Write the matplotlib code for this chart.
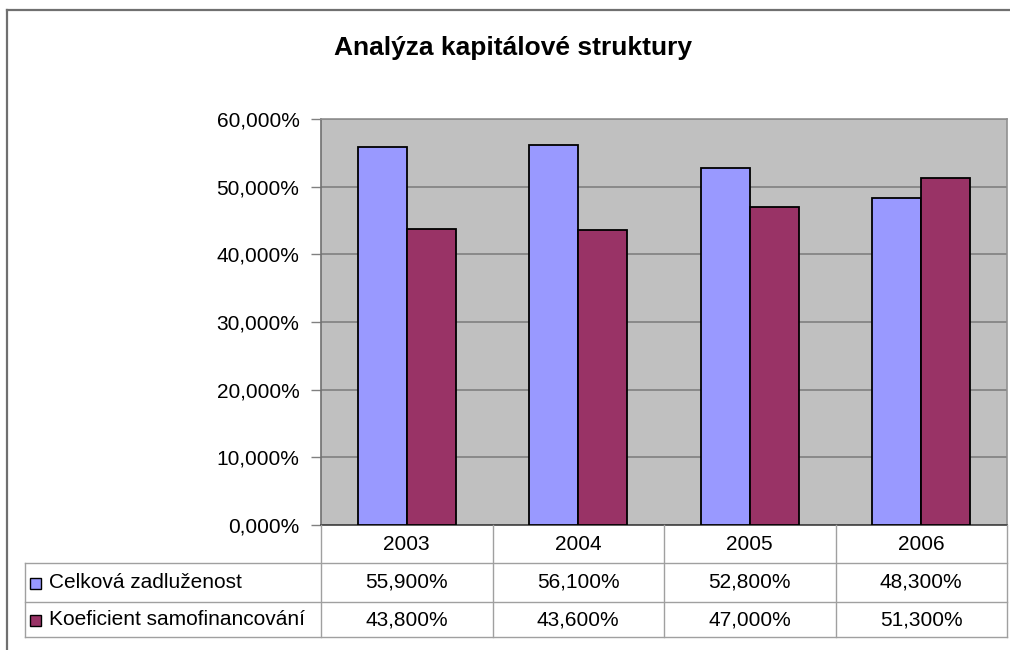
import matplotlib
matplotlib.use("Agg")
import matplotlib.pyplot as plt
from matplotlib.patches import Rectangle
from matplotlib.lines import Line2D
import numpy as np

plt.rcParams['font.family'] = ['Liberation Sans', 'DejaVu Sans']

title = "Analýza kapitálové struktury"
years = ["2003", "2004", "2005", "2006"]
series_names = ["Celková zadluženost", "Koeficient samofinancování"]
celkova = [55.9, 56.1, 52.8, 48.3]
koeficient = [43.8, 43.6, 47.0, 51.3]
yticks = [0, 10, 20, 30, 40, 50, 60]
colors = ["#9999FF", "#993366"]

W, H = 1010, 650
fig = plt.figure(figsize=(W / 100, H / 100), dpi=100)

def fx(px):
    return px / W

def fy(py):
    return 1 - py / H

def fmt(v):
    return f"{v:.3f}".replace(".", ",") + "%"

# outer chart border
fig.add_artist(Line2D([fx(7), fx(1010)], [fy(10), fy(10)], color="#707070", lw=1.6))
fig.add_artist(Line2D([fx(7), fx(7)], [fy(10), fy(650)], color="#707070", lw=1.6))

# title
fig.text(fx(513), fy(48), title, ha="center", va="center", fontsize=19, fontweight="bold")

# main plot
L, R, T, B = 321, 1007, 119, 525
ax = fig.add_axes([fx(L), fy(B), fx(R) - fx(L), fy(T) - fy(B)])
ax.set_facecolor("#C0C0C0")
x = np.arange(len(years))
bw = 1 / 3.5
series = [celkova, koeficient]
for k, (vals, c) in enumerate(zip(series, colors)):
    ax.bar(x + (k - 0.5) * bw, vals, width=bw, color=c, edgecolor="black", linewidth=1.3, zorder=3)
ax.set_xlim(-0.5, len(years) - 0.5)
ax.set_ylim(0, 60)
ax.set_yticks(yticks)
ax.set_yticklabels([fmt(v) for v in yticks], fontsize=15)
ax.yaxis.grid(True, color="#808080", linewidth=1.2, zorder=0)
ax.set_axisbelow(True)
ax.set_xticks([])
ax.tick_params(axis="y", length=7, width=1, color="#808080", pad=8.5)
for s in ["top", "right"]:
    ax.spines[s].set_color("#909090")
    ax.spines[s].set_linewidth(1.2)
ax.spines["left"].set_color("#707070")
ax.spines["left"].set_linewidth(1.2)
ax.spines["bottom"].set_color("#404040")
ax.spines["bottom"].set_linewidth(1.2)

# data table below, in category coordinates
TL, TB = 25, 637
unit = (R - L) / len(years)
tax = fig.add_axes([fx(TL), fy(TB), fx(R) - fx(TL), fy(B) - fy(TB)])
tax.set_xlim(-0.5 - (L - TL) / unit, len(years) - 0.5)
tax.set_ylim(TB - B, 0)
tax.axis("off")
gc = "#A0A0A0"
row_y = [0, 38, 77, TB - B]
left_lim = -0.5 - (L - TL) / unit
# horizontal lines
for yy in row_y[1:]:
    tax.plot([left_lim, len(years) - 0.5], [yy, yy], color=gc, lw=1.0, clip_on=False)
# vertical lines
for i in range(len(years) + 1):
    tax.plot([i - 0.5, i - 0.5], [0, row_y[-1]], color=gc, lw=1.0, clip_on=False)
tax.plot([left_lim, left_lim], [row_y[1], row_y[-1]], color=gc, lw=1.0, clip_on=False)

for i, yr in enumerate(years):
    tax.text(i, (row_y[0] + row_y[1]) / 2, yr, ha="center", va="center", fontsize=15)
for r, (name, vals, c) in enumerate(zip(series_names, series, colors)):
    yc = (row_y[r + 1] + row_y[r + 2]) / 2
    for i, v in enumerate(vals):
        tax.text(i, yc, fmt(v), ha="center", va="center", fontsize=15)
    sw = 11 / unit
    tax.add_patch(Rectangle((left_lim + 5 / unit, yc - 5.5 + 1), sw, 11, facecolor=c,
                            edgecolor="black", lw=1.0, clip_on=False))
    tax.text(left_lim + 24 / unit, yc, name, ha="left", va="center", fontsize=15)

fig.savefig("out.png", dpi=100)
